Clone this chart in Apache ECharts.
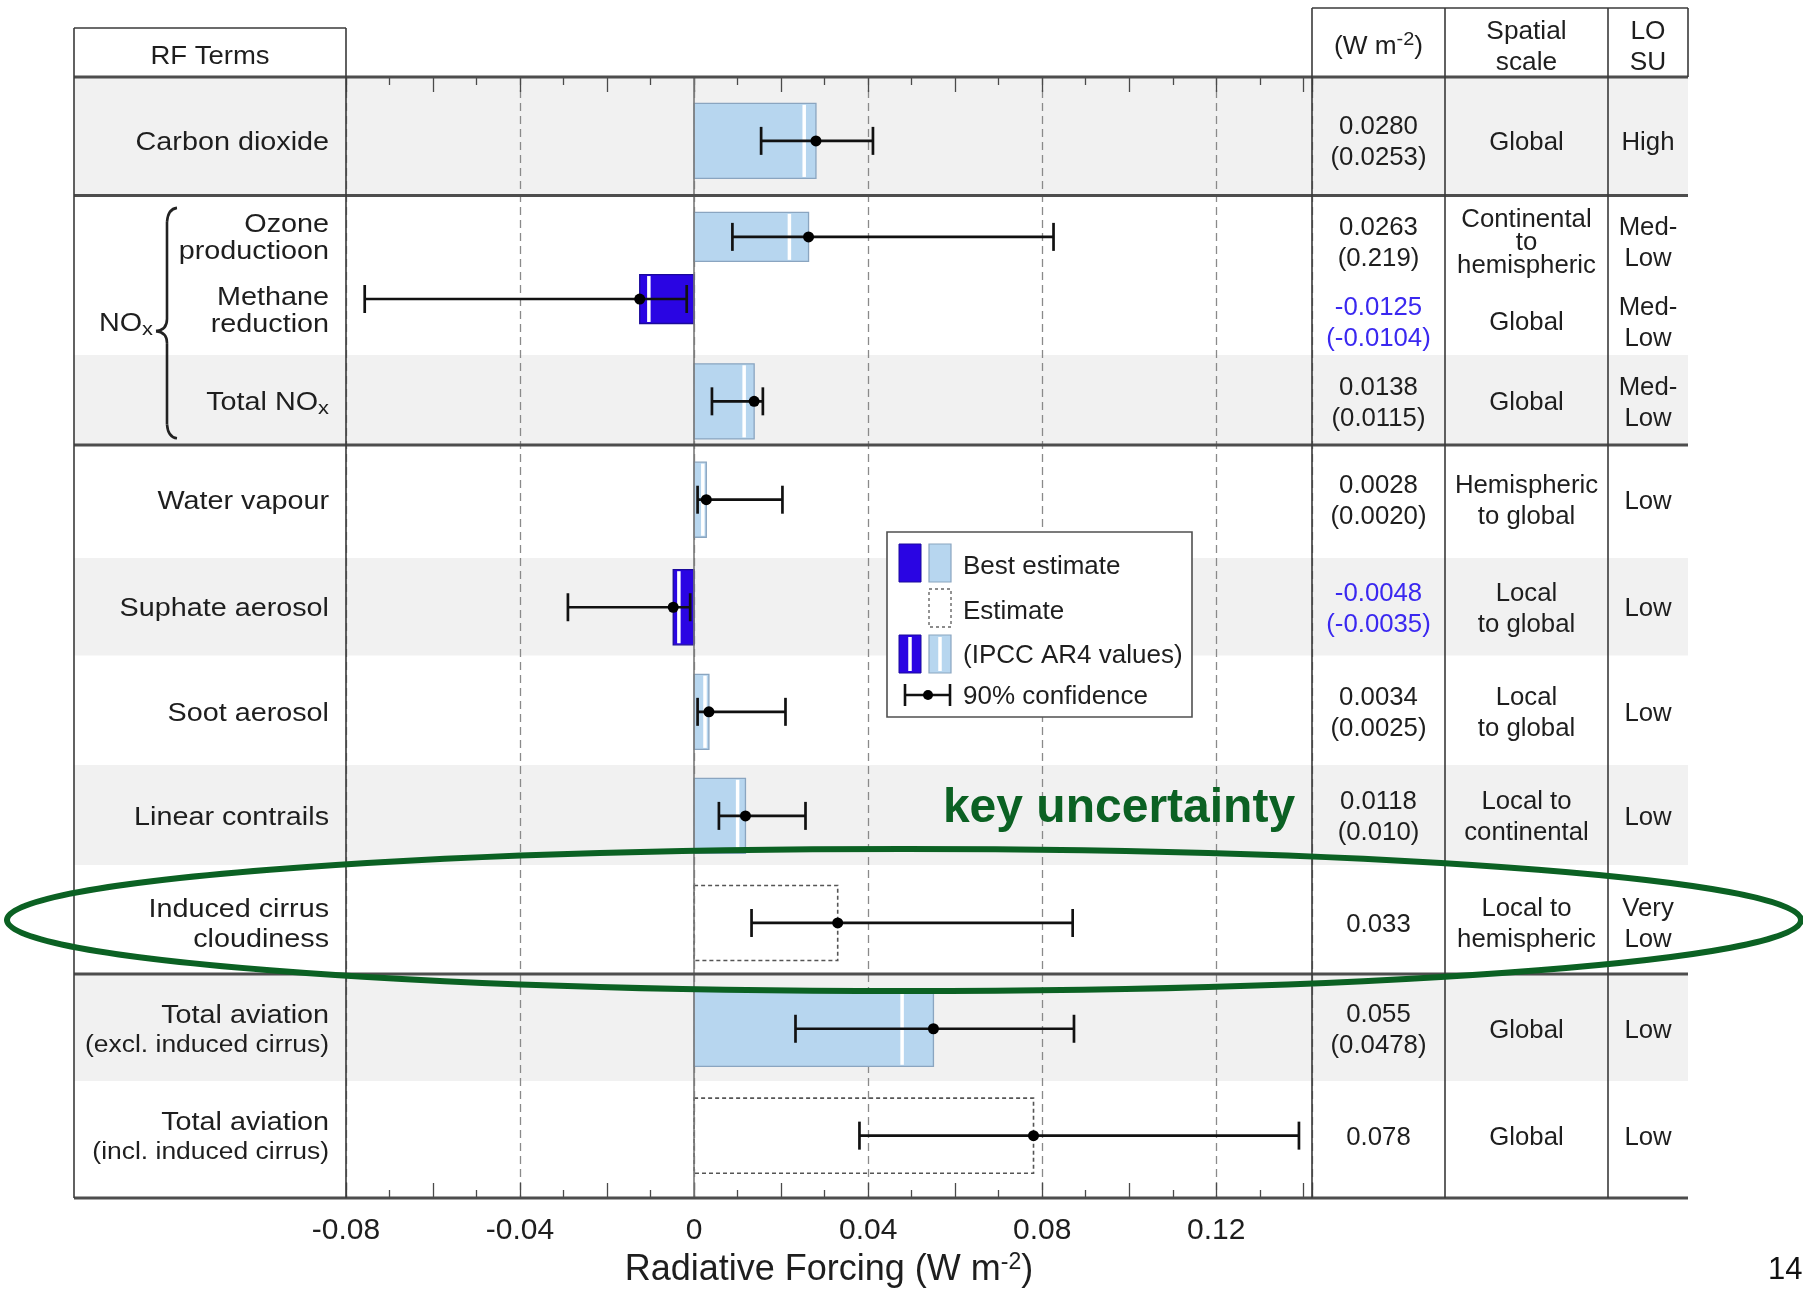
<!DOCTYPE html>
<html>
<head>
<meta charset="utf-8">
<title>Aviation radiative forcing terms</title>
<script src="https://cdn.jsdelivr.net/npm/echarts@6/dist/echarts.min.js"></script>
<style>
  html, body { margin: 0; padding: 0; background: #ffffff; }
  #chart { width: 1803px; height: 1290px; }
</style>
</head>
<body>
<div id="chart"></div>
<script>
// ---------------------------------------------------------------------------
// Data: radiative forcing terms of aviation (W m-2)
// ---------------------------------------------------------------------------
const terms = [
  'Carbon dioxide',
  'Ozone\nproductioon',
  'Methane\nreduction',
  'Total NOx',
  'Water vapour',
  'Suphate aerosol',
  'Soot aerosol',
  'Linear contrails',
  'Induced cirrus\ncloudiness',
  'Total aviation\n(excl. induced cirrus)',
  'Total aviation\n(incl. induced cirrus)'
];
const bestEstimate = [0.0280, 0.0263, -0.0125, 0.0138, 0.0028, -0.0048, 0.0034, 0.0118, 0.033, 0.055, 0.078];
const ar4Values    = [0.0253, 0.0219, -0.0104, 0.0115, 0.0020, -0.0035, 0.0025, 0.010, null, 0.0478, null];
const ciLow        = [0.0154, 0.0088, -0.0757, 0.0041, 0.0008, -0.0290, 0.0008, 0.0057, 0.0132, 0.0233, 0.0380];
const ciHigh       = [0.0411, 0.0826, -0.0017, 0.0158, 0.0203, -0.0009, 0.0210, 0.0256, 0.0870, 0.0873, 0.1390];
const estimateOnly = [false, false, false, false, false, false, false, false, true, false, true];
const rfText = [
  '0.0280\n(0.0253)', '0.0263\n(0.219)', '-0.0125\n(-0.0104)', '0.0138\n(0.0115)',
  '0.0028\n(0.0020)', '-0.0048\n(-0.0035)', '0.0034\n(0.0025)', '0.0118\n(0.010)',
  '0.033', '0.055\n(0.0478)', '0.078'
];
const spatialScale = [
  'Global', 'Continental\nto\nhemispheric', 'Global', 'Global', 'Hemispheric\nto global',
  'Local\nto global', 'Local\nto global', 'Local to\ncontinental', 'Local to\nhemispheric',
  'Global', 'Global'
];
const losu = ['High', 'Med-\nLow', 'Med-\nLow', 'Med-\nLow', 'Low', 'Low', 'Low', 'Low', 'Very\nLow', 'Low', 'Low'];
const forcingTicks = ['-0.08', '-0.04', '0', '0.04', '0.08', '0.12'];

// ---------------------------------------------------------------------------
// Layout
// ---------------------------------------------------------------------------
const X_MIN = -0.08, X_MAX = 0.142;
const ROW_UNITS = 10.3;                      // vertical extent of the plot, in row units
// slot of each term down the plot (row units)
const rowY   = [0.587, 1.469, 2.040, 2.980, 3.884, 4.872, 5.833, 6.789, 7.773, 8.745, 9.727];
// the NOx sub-terms' text is set a little apart from their bars
const labelY = rowY.map((v, i) => (i === 2 ? 2.138 : v));
const cellY  = rowY.map((v, i) => (i === 1 ? 1.51 : i === 2 ? 2.245 : v));
const barUnits = rowY.map((v, i) => (i === 1 || i === 2 ? 0.45 : 0.69));
const bandEdges  = [0, 1.089, 2.555, 3.382, 4.42, 5.316, 6.322, 7.241, 8.242, 9.226, 10.3];
const groupEdges = [0, 1.089, 3.382, 8.242, 10.3];

const FONT = '"Liberation Sans", Arial, Helvetica, sans-serif';
const TEXT = '#1e1e1e';
const NEG_TEXT = '#3a28f0';
const LIGHT_BLUE = '#b7d6ef';
const LIGHT_EDGE = '#8aa5c0';
const DARK_BLUE = '#2a05e3';
const DARK_EDGE = '#1b0a9a';
const BAND = '#f1f1f1';
const RULE = '#3a3a3a';
const GREEN = '#0b6123';

const TABLE_LEFT = 74, LABEL_RIGHT = 329, PLOT_LEFT = 346;
const COL_EDGES = [1312, 1445, 1608, 1688];
const HEAD_TOP_LEFT = 28, HEAD_TOP_RIGHT = 8;
const TEXT_DROP = 2;                          // optical centring of middle-aligned text
const colCenter = k => (COL_EDGES[k] + COL_EDGES[k + 1]) / 2;

function txt(x, y, text, o) {
  o = o || {};
  return {
    type: 'text', x: x, y: y + TEXT_DROP, scaleX: o.scaleX || 1,
    style: {
      text: text, fontFamily: FONT, fontSize: o.fontSize || 25,
      fontWeight: o.fontWeight || 'normal',
      fill: o.fill || TEXT, align: o.align || 'center', verticalAlign: 'middle',
      lineHeight: o.lineHeight || 31, rich: o.rich
    }
  };
}

// shaded rows sit beneath the dashed grid
function bandItem(params, api) {
  const i = params.dataIndex;
  const children = [];
  if (i % 2 === 0) {
    const y0 = api.coord([X_MIN, api.value(1)])[1];
    const y1 = api.coord([X_MIN, api.value(2)])[1];
    children.push({ type: 'rect', shape: { x: TABLE_LEFT, y: y0, width: COL_EDGES[3] - TABLE_LEFT, height: y1 - y0 },
      style: { fill: BAND } });
  }
  return { type: 'group', children: children };
}

function barItem(params, api) {
  const i = params.dataIndex;
  const v = api.value(0), y = api.value(1);
  const h = api.size([0, barUnits[i]])[1];
  const p0 = api.coord([0, y]), p1 = api.coord([v, y]);
  const left = Math.min(p0[0], p1[0]), w = Math.abs(p1[0] - p0[0]);
  const top = p0[1] - h / 2;
  const children = [];
  if (estimateOnly[i]) {
    children.push({ type: 'rect', shape: { x: left, y: top, width: w, height: h },
      style: { fill: 'none', stroke: '#555', lineWidth: 1.6, lineDash: [4, 3] } });
  } else {
    const neg = v < 0;
    children.push({ type: 'rect', shape: { x: left, y: top, width: w, height: h },
      style: { fill: neg ? DARK_BLUE : LIGHT_BLUE, stroke: neg ? DARK_EDGE : LIGHT_EDGE, lineWidth: 1.3 } });
    if (ar4Values[i] !== null) {
      const xa = api.coord([ar4Values[i], y])[0];
      children.push({ type: 'line', shape: { x1: xa, y1: top + 1.5, x2: xa, y2: top + h - 1.5 },
        style: { stroke: '#ffffff', lineWidth: 3.5 } });
    }
  }
  return { type: 'group', children: children };
}

function errorItem(params, api) {
  const y = api.value(3);
  const lo = api.coord([api.value(0), y]);
  const hi = api.coord([api.value(1), y]);
  const mid = api.coord([api.value(2), y]);
  const c = 14;
  const s = { stroke: '#111', lineWidth: 2.7 };
  return { type: 'group', children: [
    { type: 'line', shape: { x1: lo[0], y1: lo[1], x2: hi[0], y2: hi[1] }, style: s },
    { type: 'line', shape: { x1: lo[0], y1: lo[1] - c, x2: lo[0], y2: lo[1] + c }, style: s },
    { type: 'line', shape: { x1: hi[0], y1: hi[1] - c, x2: hi[0], y2: hi[1] + c }, style: s },
    { type: 'circle', shape: { cx: mid[0], cy: mid[1], r: 5.5 }, style: { fill: '#000' } }
  ] };
}

const labelRich = {
  sub: { fontFamily: FONT, fontSize: 19, fill: TEXT, lineHeight: 8, verticalAlign: 'bottom' },
  par: { fontFamily: FONT, fontSize: 23, fill: TEXT, lineHeight: 30 }
};

function labelItem(params, api) {
  const i = params.dataIndex;
  const yl = api.coord([X_MIN, api.value(1)])[1];
  const yc = api.coord([X_MIN, api.value(2)])[1];
  const nox = i === 1 || i === 2;
  const name = terms[i]
    .split('\n')
    .map(line => (line.charAt(0) === '(' ? '{par|' + line + '}' : line.replace('NOx', 'NO{sub|x}')))
    .join('\n');
  const neg = bestEstimate[i] < 0;
  return { type: 'group', children: [
    txt(LABEL_RIGHT, yl, name, { align: 'right', scaleX: 1.15, lineHeight: nox ? 27 : 30, rich: labelRich }),
    txt(colCenter(0), yc, rfText[i], { fill: neg ? NEG_TEXT : TEXT, scaleX: 1.03 }),
    txt(colCenter(1), yc, spatialScale[i], { scaleX: 1.03, lineHeight: i === 1 ? 23 : 31 }),
    txt(colCenter(2), yc, losu[i], { scaleX: 1.03 })
  ] };
}

// table rules, headers and the NOx brace
function frameItem(params, api) {
  const yPx = u => api.coord([X_MIN, u])[1];
  const top = yPx(0), bottom = yPx(ROW_UNITS);
  const ch = [];
  const line = (x1, y1, x2, y2, w, c) => ch.push({ type: 'line', shape: { x1, y1, x2, y2 },
    style: { stroke: c || RULE, lineWidth: w || 1.6 } });

  groupEdges.forEach(u => line(TABLE_LEFT, yPx(u), COL_EDGES[3], yPx(u), 3, '#4d4d4d'));
  line(TABLE_LEFT, HEAD_TOP_LEFT, PLOT_LEFT, HEAD_TOP_LEFT);
  line(COL_EDGES[0], HEAD_TOP_RIGHT, COL_EDGES[3], HEAD_TOP_RIGHT);
  line(TABLE_LEFT, HEAD_TOP_LEFT, TABLE_LEFT, bottom);
  line(PLOT_LEFT, HEAD_TOP_LEFT, PLOT_LEFT, bottom);
  COL_EDGES.slice(0, 3).forEach(x => line(x, HEAD_TOP_RIGHT, x, bottom));
  line(COL_EDGES[3], HEAD_TOP_RIGHT, COL_EDGES[3], top);

  const supRich = { sup: { fontFamily: FONT, fontSize: 19, fill: TEXT, lineHeight: 16, verticalAlign: 'top' } };
  ch.push(txt((TABLE_LEFT + PLOT_LEFT) / 2, 55, 'RF Terms', { scaleX: 1.1 }));
  ch.push(txt(colCenter(0), 45, '(W m{sup|-2})', { scaleX: 1.05, lineHeight: 34, rich: supRich }));
  ch.push(txt(colCenter(1), 46, 'Spatial\nscale', { scaleX: 1.05, lineHeight: 31 }));
  ch.push(txt(colCenter(2), 46, 'LO\nSU', { scaleX: 1.05, lineHeight: 31 }));

  // brace grouping the NOx terms
  const yTop = yPx(rowY[1]) - 29, yBot = yPx(rowY[3]) + 37;
  const tip = (yTop + yBot) / 2 + 8, x0 = 167;
  const bs = { stroke: '#222', lineWidth: 2.6, fill: 'none' };
  ch.push({ type: 'bezierCurve', shape: { x1: x0 + 10, y1: yTop, cpx1: x0 + 1, cpy1: yTop + 1, x2: x0, y2: yTop + 14 }, style: bs });
  ch.push({ type: 'line', shape: { x1: x0, y1: yTop + 14, x2: x0, y2: tip - 12 }, style: bs });
  ch.push({ type: 'bezierCurve', shape: { x1: x0, y1: tip - 12, cpx1: x0, cpy1: tip - 1, x2: x0 - 11, y2: tip }, style: bs });
  ch.push({ type: 'bezierCurve', shape: { x1: x0 - 11, y1: tip, cpx1: x0, cpy1: tip + 1, x2: x0, y2: tip + 12 }, style: bs });
  ch.push({ type: 'line', shape: { x1: x0, y1: tip + 12, x2: x0, y2: yBot - 14 }, style: bs });
  ch.push({ type: 'bezierCurve', shape: { x1: x0, y1: yBot - 14, cpx1: x0 + 1, cpy1: yBot - 1, x2: x0 + 10, y2: yBot }, style: bs });
  ch.push(txt(x0 - 14, tip - 9, 'NO{sub|x}', { align: 'right', scaleX: 1.15, lineHeight: 30, rich: labelRich }));

  return { type: 'group', children: ch };
}

function tickLabel(v) {
  const hit = forcingTicks.find(t => Math.abs(parseFloat(t) - v) < 1e-6);
  return hit === undefined ? '' : hit;
}

const tickStyle = { color: '#4a4a4a', width: 1.3 };
const chart = echarts.init(document.getElementById('chart'), null, { renderer: 'canvas' });

chart.setOption({
  backgroundColor: '#ffffff',
  animation: false,
  grid: { left: 346, right: 1803 - 1312, top: 77, bottom: 1290 - 1198, containLabel: false, outerBoundsMode: 'none' },
  xAxis: [
    {
      type: 'value', min: X_MIN, max: X_MAX, interval: 0.02, position: 'bottom',
      axisLine: { show: false, onZero: false },
      axisTick: { show: true, inside: true, length: 15, lineStyle: tickStyle },
      minorTick: { show: true, splitNumber: 2, length: 8, lineStyle: tickStyle },
      splitLine: { show: false },
      axisLabel: { formatter: tickLabel, fontFamily: FONT, fontSize: 30, color: TEXT, margin: 18 },
      name: '{a|Radiative Forcing (W m}{s|-2}{a|)}',
      nameLocation: 'middle', nameGap: 50,
      nameTextStyle: { rich: {
        a: { fontFamily: FONT, fontSize: 36, color: TEXT, lineHeight: 38 },
        s: { fontFamily: FONT, fontSize: 23, color: TEXT, lineHeight: 20, verticalAlign: 'top' }
      } }
    },
    {
      type: 'value', min: X_MIN, max: X_MAX, interval: 0.02, position: 'top',
      axisLine: { show: false, onZero: false },
      axisTick: { show: true, inside: true, length: 15, lineStyle: tickStyle },
      minorTick: { show: true, splitNumber: 2, length: 8, lineStyle: tickStyle },
      splitLine: { show: false },
      axisLabel: { show: false }
    },
    {
      type: 'value', min: X_MIN, max: X_MAX, interval: 0.04, position: 'bottom',
      axisLine: { show: false, onZero: false }, axisTick: { show: false }, axisLabel: { show: false },
      splitLine: { show: true, lineStyle: { color: '#8a8a8a', width: 1.3, type: [8, 5] } }
    }
  ],
  yAxis: { type: 'value', inverse: true, min: 0, max: ROW_UNITS, show: false },
  series: [
    {
      type: 'custom', name: 'rows', z: -1, renderItem: bandItem, silent: true,
      encode: { x: 0, y: [1, 2] },
      data: bandEdges.slice(0, -1).map((u, i) => [X_MIN, u, bandEdges[i + 1]])
    },
    {
      type: 'custom', name: 'Best estimate', z: 3, renderItem: barItem, silent: true,
      encode: { x: 0, y: 1 },
      data: bestEstimate.map((v, i) => [v, rowY[i]]),
      markLine: {
        silent: true, symbol: 'none', label: { show: false },
        lineStyle: { color: '#7a7a7a', type: 'solid', width: 1.6 },
        data: [{ xAxis: 0 }]
      }
    },
    {
      type: 'custom', name: '90% confidence', z: 4, renderItem: errorItem, silent: true,
      encode: { x: [0, 1, 2], y: 3 },
      data: bestEstimate.map((v, i) => [ciLow[i], ciHigh[i], v, rowY[i]])
    },
    {
      type: 'custom', name: 'labels', z: 5, renderItem: labelItem, silent: true,
      encode: { x: 0, y: [1, 2] },
      data: terms.map((t, i) => [X_MIN, labelY[i], cellY[i]])
    },
    {
      type: 'custom', name: 'frame', z: 6, renderItem: frameItem, silent: true,
      encode: { x: 0, y: 1 },
      data: [[X_MIN, 0]]
    }
  ],
  graphic: [
    // legend
    { type: 'rect', z: 20, shape: { x: 887, y: 532, width: 305, height: 185 },
      style: { fill: '#ffffff', stroke: '#505050', lineWidth: 1.6 } },
    { type: 'rect', z: 21, shape: { x: 899, y: 544, width: 22, height: 38 }, style: { fill: DARK_BLUE, stroke: DARK_EDGE, lineWidth: 1 } },
    { type: 'rect', z: 21, shape: { x: 929, y: 544, width: 22, height: 38 }, style: { fill: LIGHT_BLUE, stroke: LIGHT_EDGE, lineWidth: 1.2 } },
    { type: 'text', z: 21, x: 963, y: 567, style: { text: 'Best estimate', fontFamily: FONT, fontSize: 26, fill: TEXT, align: 'left', verticalAlign: 'middle' } },
    { type: 'rect', z: 21, shape: { x: 929, y: 589, width: 22, height: 38 }, style: { fill: 'none', stroke: '#666', lineWidth: 1.4, lineDash: [3, 3] } },
    { type: 'text', z: 21, x: 963, y: 612, style: { text: 'Estimate', fontFamily: FONT, fontSize: 26, fill: TEXT, align: 'left', verticalAlign: 'middle' } },
    { type: 'rect', z: 21, shape: { x: 899, y: 635, width: 22, height: 38 }, style: { fill: DARK_BLUE, stroke: DARK_EDGE, lineWidth: 1 } },
    { type: 'line', z: 22, shape: { x1: 910, y1: 637, x2: 910, y2: 671 }, style: { stroke: '#fff', lineWidth: 3.5 } },
    { type: 'rect', z: 21, shape: { x: 929, y: 635, width: 22, height: 38 }, style: { fill: LIGHT_BLUE, stroke: LIGHT_EDGE, lineWidth: 1.2 } },
    { type: 'line', z: 22, shape: { x1: 940, y1: 637, x2: 940, y2: 671 }, style: { stroke: '#fff', lineWidth: 3.5 } },
    { type: 'text', z: 21, x: 963, y: 656, style: { text: '(IPCC AR4 values)', fontFamily: FONT, fontSize: 26, fill: TEXT, align: 'left', verticalAlign: 'middle' } },
    { type: 'line', z: 21, shape: { x1: 905, y1: 695, x2: 950, y2: 695 }, style: { stroke: '#111', lineWidth: 2.6 } },
    { type: 'line', z: 21, shape: { x1: 905, y1: 684, x2: 905, y2: 706 }, style: { stroke: '#111', lineWidth: 2.6 } },
    { type: 'line', z: 21, shape: { x1: 950, y1: 684, x2: 950, y2: 706 }, style: { stroke: '#111', lineWidth: 2.6 } },
    { type: 'circle', z: 22, shape: { cx: 928, cy: 695, r: 5 }, style: { fill: '#000' } },
    { type: 'text', z: 21, x: 963, y: 697, style: { text: '90% confidence', fontFamily: FONT, fontSize: 26, fill: TEXT, align: 'left', verticalAlign: 'middle' } },
    // highlighted uncertainty
    { type: 'text', z: 30, x: 1119, y: 809, style: { text: 'key uncertainty', fontFamily: FONT, fontSize: 48, fontWeight: 'bold', fill: GREEN, align: 'center', verticalAlign: 'middle' } },
    { type: 'ellipse', z: 30, silent: true, shape: { cx: 904, cy: 920, rx: 897, ry: 71 }, style: { fill: 'none', stroke: GREEN, lineWidth: 6 } },
    // slide number
    { type: 'text', z: 30, x: 1768, y: 1270, style: { text: '14', fontFamily: FONT, fontSize: 31, fill: '#111', align: 'left', verticalAlign: 'middle' } }
  ]
});
</script>
</body>
</html>
